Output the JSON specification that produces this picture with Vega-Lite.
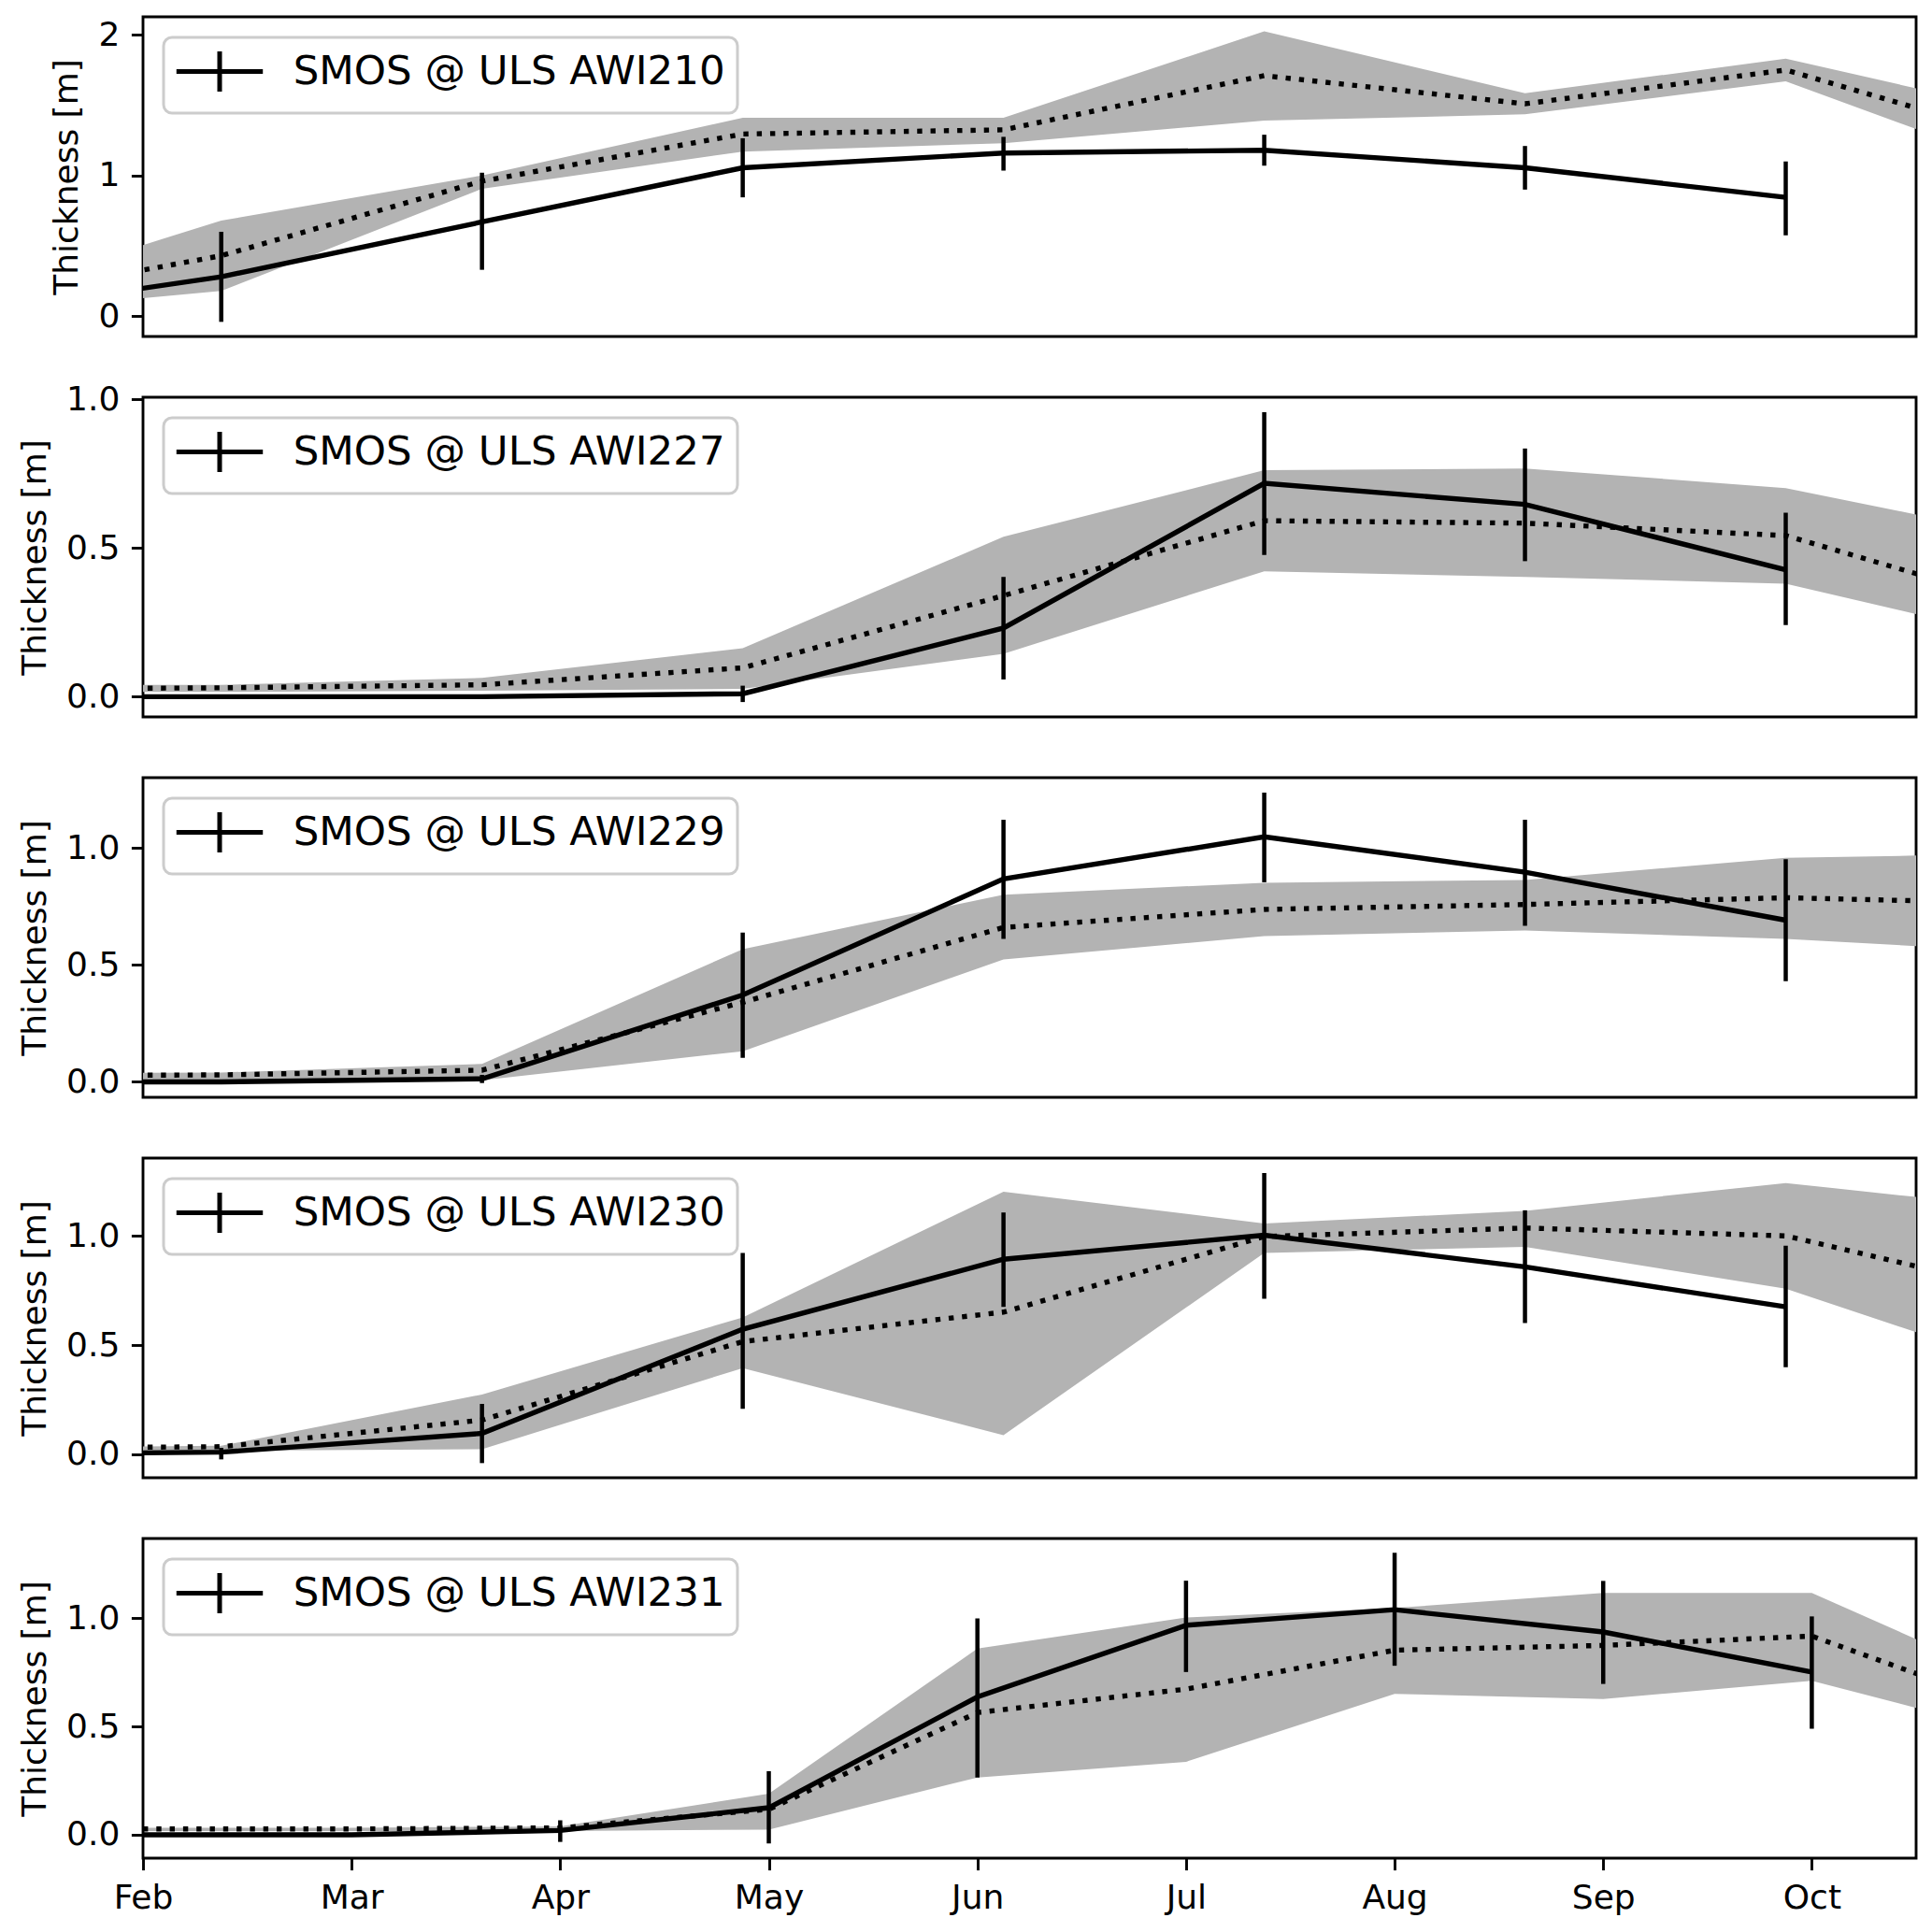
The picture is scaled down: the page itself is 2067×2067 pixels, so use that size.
{
  "$schema": "https://vega.github.io/schema/vega-lite/v6.json",
  "background": "#ffffff",
  "padding": {"left": 18, "top": 16, "right": 5, "bottom": 5},
  "config": {
    "font": "DejaVu Sans",
    "view": {"stroke": "#000000", "strokeWidth": 2.9},
    "axis": {
      "domain": false, "grid": false, "labelFlush": false,
      "tickColor": "#000000", "tickWidth": 2.9, "tickSize": 12.6,
      "labelPadding": 12.6, "labelFont": "DejaVu Sans", "labelFontSize": 36, "labelColor": "#000000",
      "titleFont": "DejaVu Sans", "titleFontSize": 36, "titleFontWeight": "normal", "titleColor": "#000000", "titlePadding": 14
    },
    "legend": {
      "orient": "top-left", "offset": 22, "title": null,
      "fillColor": "rgba(255,255,255,0.8)", "strokeColor": "#cccccc", "strokeWidth": 3, "cornerRadius": 9, "padding": 12.5,
      "symbolType": "M-2.15,0H2.15M0,-1V1", "symbolSize": 1849, "symbolOffset": 23.5, "symbolStrokeWidth": 5, "symbolStrokeColor": "#000000",
      "labelFont": "DejaVu Sans", "labelFontSize": 43.5, "labelColor": "#000000", "labelOffset": 54.7, "labelLimit": 0
    }
  },
  "data": {"values": [
    {"st": "AWI210", "m": 1.125, "smos": 0.01, "med": 0.09, "lo": 0.01, "hi": 0.1},
    {"st": "AWI210", "m": 2.375, "smos": 0.28, "elo": -0.04, "ehi": 0.6, "med": 0.43, "lo": 0.18, "hi": 0.68},
    {"st": "AWI210", "m": 3.625, "smos": 0.67, "elo": 0.33, "ehi": 1.02, "med": 0.96, "lo": 0.905, "hi": 1.0},
    {"st": "AWI210", "m": 4.875, "smos": 1.055, "elo": 0.845, "ehi": 1.265, "med": 1.295, "lo": 1.17, "hi": 1.41},
    {"st": "AWI210", "m": 6.125, "smos": 1.16, "elo": 1.035, "ehi": 1.275, "med": 1.325, "lo": 1.23, "hi": 1.41},
    {"st": "AWI210", "m": 7.375, "smos": 1.18, "elo": 1.07, "ehi": 1.29, "med": 1.71, "lo": 1.39, "hi": 2.025},
    {"st": "AWI210", "m": 8.625, "smos": 1.055, "elo": 0.9, "ehi": 1.21, "med": 1.51, "lo": 1.435, "hi": 1.585},
    {"st": "AWI210", "m": 9.875, "smos": 0.845, "elo": 0.575, "ehi": 1.1, "med": 1.75, "lo": 1.67, "hi": 1.83},
    {"st": "AWI210", "m": 11.125, "med": 1.21, "lo": 0.99, "hi": 1.41},

    {"st": "AWI227", "m": 1.125, "smos": 0.0, "med": 0.025, "lo": 0.016, "hi": 0.038},
    {"st": "AWI227", "m": 2.375, "smos": 0.0, "med": 0.03, "lo": 0.016, "hi": 0.04},
    {"st": "AWI227", "m": 3.625, "smos": 0.0, "med": 0.04, "lo": 0.02, "hi": 0.063},
    {"st": "AWI227", "m": 4.875, "smos": 0.01, "elo": -0.018, "ehi": 0.037, "med": 0.097, "lo": 0.026, "hi": 0.163},
    {"st": "AWI227", "m": 6.125, "smos": 0.231, "elo": 0.058, "ehi": 0.403, "med": 0.34, "lo": 0.144, "hi": 0.538},
    {"st": "AWI227", "m": 7.375, "smos": 0.718, "elo": 0.477, "ehi": 0.957, "med": 0.592, "lo": 0.422, "hi": 0.762},
    {"st": "AWI227", "m": 8.625, "smos": 0.647, "elo": 0.456, "ehi": 0.835, "med": 0.584, "lo": 0.403, "hi": 0.768},
    {"st": "AWI227", "m": 9.875, "smos": 0.427, "elo": 0.241, "ehi": 0.619, "med": 0.542, "lo": 0.38, "hi": 0.702},
    {"st": "AWI227", "m": 11.125, "med": 0.286, "lo": 0.176, "hi": 0.524},

    {"st": "AWI229", "m": 1.125, "smos": 0.0, "med": 0.025, "lo": -0.005, "hi": 0.035},
    {"st": "AWI229", "m": 2.375, "smos": 0.0, "med": 0.03, "lo": 0.0, "hi": 0.04},
    {"st": "AWI229", "m": 3.625, "smos": 0.013, "elo": -0.005, "ehi": 0.03, "med": 0.05, "lo": 0.007, "hi": 0.077},
    {"st": "AWI229", "m": 4.875, "smos": 0.371, "elo": 0.103, "ehi": 0.638, "med": 0.34, "lo": 0.131, "hi": 0.567},
    {"st": "AWI229", "m": 6.125, "smos": 0.867, "elo": 0.611, "ehi": 1.12, "med": 0.66, "lo": 0.523, "hi": 0.8},
    {"st": "AWI229", "m": 7.375, "smos": 1.047, "elo": 0.853, "ehi": 1.236, "med": 0.737, "lo": 0.623, "hi": 0.851},
    {"st": "AWI229", "m": 8.625, "smos": 0.896, "elo": 0.667, "ehi": 1.12, "med": 0.758, "lo": 0.647, "hi": 0.863},
    {"st": "AWI229", "m": 9.875, "smos": 0.691, "elo": 0.43, "ehi": 0.952, "med": 0.787, "lo": 0.611, "hi": 0.958},
    {"st": "AWI229", "m": 11.125, "med": 0.761, "lo": 0.549, "hi": 0.976},

    {"st": "AWI230", "m": 1.125, "smos": 0.0, "med": 0.028, "lo": 0.017, "hi": 0.03},
    {"st": "AWI230", "m": 2.375, "smos": 0.01, "elo": -0.023, "ehi": 0.03, "med": 0.035, "lo": 0.017, "hi": 0.039},
    {"st": "AWI230", "m": 3.625, "smos": 0.096, "elo": -0.04, "ehi": 0.231, "med": 0.157, "lo": 0.024, "hi": 0.274},
    {"st": "AWI230", "m": 4.875, "smos": 0.573, "elo": 0.209, "ehi": 0.922, "med": 0.516, "lo": 0.395, "hi": 0.627},
    {"st": "AWI230", "m": 6.125, "smos": 0.893, "elo": 0.675, "ehi": 1.107, "med": 0.651, "lo": 0.088, "hi": 1.202},
    {"st": "AWI230", "m": 7.375, "smos": 1.003, "elo": 0.712, "ehi": 1.288, "med": 0.997, "lo": 0.922, "hi": 1.057},
    {"st": "AWI230", "m": 8.625, "smos": 0.858, "elo": 0.601, "ehi": 1.117, "med": 1.036, "lo": 0.95, "hi": 1.114},
    {"st": "AWI230", "m": 9.875, "smos": 0.675, "elo": 0.399, "ehi": 0.955, "med": 1.0, "lo": 0.758, "hi": 1.242},
    {"st": "AWI230", "m": 11.125, "med": 0.722, "lo": 0.36, "hi": 1.114},

    {"st": "AWI231", "m": 2, "smos": 0.0, "med": 0.027, "lo": 0.017, "hi": 0.032},
    {"st": "AWI231", "m": 3, "smos": 0.0, "med": 0.027, "lo": 0.017, "hi": 0.032},
    {"st": "AWI231", "m": 4, "smos": 0.02, "elo": -0.033, "ehi": 0.067, "med": 0.032, "lo": 0.017, "hi": 0.039},
    {"st": "AWI231", "m": 5, "smos": 0.125, "elo": -0.04, "ehi": 0.294, "med": 0.118, "lo": 0.024, "hi": 0.19},
    {"st": "AWI231", "m": 6, "smos": 0.637, "elo": 0.265, "ehi": 1.0, "med": 0.565, "lo": 0.265, "hi": 0.86},
    {"st": "AWI231", "m": 7, "smos": 0.968, "elo": 0.752, "ehi": 1.174, "med": 0.673, "lo": 0.337, "hi": 1.004},
    {"st": "AWI231", "m": 8, "smos": 1.04, "elo": 0.781, "ehi": 1.303, "med": 0.853, "lo": 0.651, "hi": 1.048},
    {"st": "AWI231", "m": 9, "smos": 0.937, "elo": 0.697, "ehi": 1.173, "med": 0.875, "lo": 0.627, "hi": 1.117},
    {"st": "AWI231", "m": 10, "smos": 0.752, "elo": 0.49, "ehi": 1.009, "med": 0.918, "lo": 0.712, "hi": 1.117},
    {"st": "AWI231", "m": 11, "med": 0.572, "lo": 0.46, "hi": 0.691}
  ]},
  "bounds": "flush",
  "spacing": 65,
  "resolve": {"scale": {"y": "independent", "stroke": "independent"}, "legend": {"stroke": "independent"}},
  "vconcat": [
    {
      "width": 1897, "height": 342,
      "transform": [{"filter": "datum.st == 'AWI210'"}],
      "layer": [
        {"mark": {"type": "area", "color": "#b3b3b3", "clip": true},
         "encoding": {
           "x": {"field": "m", "type": "quantitative", "scale": {"domain": [2, 10.5], "nice": false, "zero": false}, "axis": null},
           "y": {"field": "lo", "type": "quantitative", "scale": {"domain": [-0.144, 2.128], "nice": false, "zero": false}, "axis": {"title": "Thickness [m]", "values": [0, 1, 2], "format": "d"}},
           "y2": {"field": "hi"}}},
        {"mark": {"type": "line", "color": "#000000", "strokeWidth": 5.4, "strokeDash": [5.4, 8.9], "strokeCap": "butt", "clip": true},
         "encoding": {
           "x": {"field": "m", "type": "quantitative"},
           "y": {"field": "med", "type": "quantitative", "title": "Thickness [m]"}}},
        {"mark": {"type": "line", "strokeWidth": 5.4, "clip": true},
         "encoding": {
           "x": {"field": "m", "type": "quantitative"},
           "y": {"field": "smos", "type": "quantitative", "title": "Thickness [m]"},
           "stroke": {"datum": "SMOS @ ULS AWI210", "type": "nominal", "scale": {"range": ["#000000"]}}}},
        {"mark": {"type": "rule", "color": "#000000", "strokeWidth": 4.5, "clip": true},
         "encoding": {
           "x": {"field": "m", "type": "quantitative"},
           "y": {"field": "elo", "type": "quantitative", "title": "Thickness [m]"},
           "y2": {"field": "ehi"}}}
      ]
    },
    {
      "width": 1897, "height": 342,
      "transform": [{"filter": "datum.st == 'AWI227'"}],
      "layer": [
        {"mark": {"type": "area", "color": "#b3b3b3", "clip": true},
         "encoding": {
           "x": {"field": "m", "type": "quantitative", "scale": {"domain": [2, 10.5], "nice": false, "zero": false}, "axis": null},
           "y": {"field": "lo", "type": "quantitative", "scale": {"domain": [-0.068, 1.0075], "nice": false, "zero": false}, "axis": {"title": "Thickness [m]", "values": [0, 0.5, 1], "format": ".1f"}},
           "y2": {"field": "hi"}}},
        {"mark": {"type": "line", "color": "#000000", "strokeWidth": 5.4, "strokeDash": [5.4, 8.9], "strokeCap": "butt", "clip": true},
         "encoding": {
           "x": {"field": "m", "type": "quantitative"},
           "y": {"field": "med", "type": "quantitative", "title": "Thickness [m]"}}},
        {"mark": {"type": "line", "strokeWidth": 5.4, "clip": true},
         "encoding": {
           "x": {"field": "m", "type": "quantitative"},
           "y": {"field": "smos", "type": "quantitative", "title": "Thickness [m]"},
           "stroke": {"datum": "SMOS @ ULS AWI227", "type": "nominal", "scale": {"range": ["#000000"]}}}},
        {"mark": {"type": "rule", "color": "#000000", "strokeWidth": 4.5, "clip": true},
         "encoding": {
           "x": {"field": "m", "type": "quantitative"},
           "y": {"field": "elo", "type": "quantitative", "title": "Thickness [m]"},
           "y2": {"field": "ehi"}}}
      ]
    },
    {
      "width": 1897, "height": 342,
      "transform": [{"filter": "datum.st == 'AWI229'"}],
      "layer": [
        {"mark": {"type": "area", "color": "#b3b3b3", "clip": true},
         "encoding": {
           "x": {"field": "m", "type": "quantitative", "scale": {"domain": [2, 10.5], "nice": false, "zero": false}, "axis": null},
           "y": {"field": "lo", "type": "quantitative", "scale": {"domain": [-0.066, 1.3], "nice": false, "zero": false}, "axis": {"title": "Thickness [m]", "values": [0, 0.5, 1], "format": ".1f"}},
           "y2": {"field": "hi"}}},
        {"mark": {"type": "line", "color": "#000000", "strokeWidth": 5.4, "strokeDash": [5.4, 8.9], "strokeCap": "butt", "clip": true},
         "encoding": {
           "x": {"field": "m", "type": "quantitative"},
           "y": {"field": "med", "type": "quantitative", "title": "Thickness [m]"}}},
        {"mark": {"type": "line", "strokeWidth": 5.4, "clip": true},
         "encoding": {
           "x": {"field": "m", "type": "quantitative"},
           "y": {"field": "smos", "type": "quantitative", "title": "Thickness [m]"},
           "stroke": {"datum": "SMOS @ ULS AWI229", "type": "nominal", "scale": {"range": ["#000000"]}}}},
        {"mark": {"type": "rule", "color": "#000000", "strokeWidth": 4.5, "clip": true},
         "encoding": {
           "x": {"field": "m", "type": "quantitative"},
           "y": {"field": "elo", "type": "quantitative", "title": "Thickness [m]"},
           "y2": {"field": "ehi"}}}
      ]
    },
    {
      "width": 1897, "height": 342,
      "transform": [{"filter": "datum.st == 'AWI230'"}],
      "layer": [
        {"mark": {"type": "area", "color": "#b3b3b3", "clip": true},
         "encoding": {
           "x": {"field": "m", "type": "quantitative", "scale": {"domain": [2, 10.5], "nice": false, "zero": false}, "axis": null},
           "y": {"field": "lo", "type": "quantitative", "scale": {"domain": [-0.107, 1.356], "nice": false, "zero": false}, "axis": {"title": "Thickness [m]", "values": [0, 0.5, 1], "format": ".1f"}},
           "y2": {"field": "hi"}}},
        {"mark": {"type": "line", "color": "#000000", "strokeWidth": 5.4, "strokeDash": [5.4, 8.9], "strokeCap": "butt", "clip": true},
         "encoding": {
           "x": {"field": "m", "type": "quantitative"},
           "y": {"field": "med", "type": "quantitative", "title": "Thickness [m]"}}},
        {"mark": {"type": "line", "strokeWidth": 5.4, "clip": true},
         "encoding": {
           "x": {"field": "m", "type": "quantitative"},
           "y": {"field": "smos", "type": "quantitative", "title": "Thickness [m]"},
           "stroke": {"datum": "SMOS @ ULS AWI230", "type": "nominal", "scale": {"range": ["#000000"]}}}},
        {"mark": {"type": "rule", "color": "#000000", "strokeWidth": 4.5, "clip": true},
         "encoding": {
           "x": {"field": "m", "type": "quantitative"},
           "y": {"field": "elo", "type": "quantitative", "title": "Thickness [m]"},
           "y2": {"field": "ehi"}}}
      ]
    },
    {
      "width": 1897, "height": 342,
      "transform": [{"filter": "datum.st == 'AWI231'"}],
      "layer": [
        {"mark": {"type": "area", "color": "#b3b3b3", "clip": true},
         "encoding": {
           "x": {"field": "m", "type": "quantitative", "scale": {"domain": [2, 10.5], "nice": false, "zero": false},
                 "axis": {"title": null, "values": [2, 3, 4, 5, 6, 7, 8, 9, 10], "labelExpr": "['Jan','Feb','Mar','Apr','May','Jun','Jul','Aug','Sep','Oct','Nov'][datum.value - 1]"}},
           "y": {"field": "lo", "type": "quantitative", "scale": {"domain": [-0.108, 1.369], "nice": false, "zero": false}, "axis": {"title": "Thickness [m]", "values": [0, 0.5, 1], "format": ".1f"}},
           "y2": {"field": "hi"}}},
        {"mark": {"type": "line", "color": "#000000", "strokeWidth": 5.4, "strokeDash": [5.4, 8.9], "strokeCap": "butt", "clip": true},
         "encoding": {
           "x": {"field": "m", "type": "quantitative"},
           "y": {"field": "med", "type": "quantitative", "title": "Thickness [m]"}}},
        {"mark": {"type": "line", "strokeWidth": 5.4, "clip": true},
         "encoding": {
           "x": {"field": "m", "type": "quantitative"},
           "y": {"field": "smos", "type": "quantitative", "title": "Thickness [m]"},
           "stroke": {"datum": "SMOS @ ULS AWI231", "type": "nominal", "scale": {"range": ["#000000"]}}}},
        {"mark": {"type": "rule", "color": "#000000", "strokeWidth": 4.5, "clip": true},
         "encoding": {
           "x": {"field": "m", "type": "quantitative"},
           "y": {"field": "elo", "type": "quantitative", "title": "Thickness [m]"},
           "y2": {"field": "ehi"}}}
      ]
    }
  ]
}
